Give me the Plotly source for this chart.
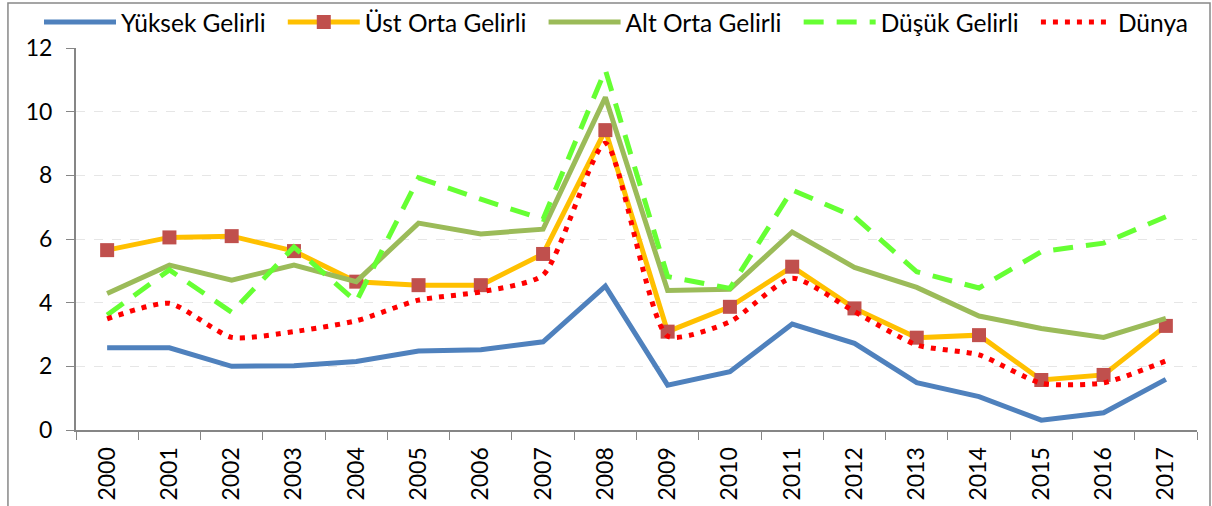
import plotly.graph_objects as go

years = [str(y) for y in range(2000, 2018)]
yuksek = [2.58, 2.58, 2.00, 2.02, 2.15, 2.48, 2.52, 2.77, 4.52, 1.41, 1.83, 3.33, 2.72, 1.49, 1.05, 0.31, 0.54, 1.59]
ust_orta = [5.65, 6.05, 6.09, 5.62, 4.66, 4.55, 4.55, 5.53, 9.42, 3.09, 3.87, 5.13, 3.82, 2.90, 2.98, 1.57, 1.73, 3.27]
alt_orta = [4.29, 5.18, 4.71, 5.18, 4.66, 6.50, 6.16, 6.31, 10.45, 4.38, 4.42, 6.22, 5.11, 4.48, 3.58, 3.19, 2.91, 3.51]
dusuk = [3.61, 5.03, 3.70, 5.75, 4.03, 7.92, 7.25, 6.62, 11.31, 4.82, 4.45, 7.54, 6.70, 4.97, 4.46, 5.60, 5.87, 6.70]
dunya = [3.49, 3.98, 2.91, 3.09, 3.43, 4.08, 4.34, 4.87, 9.01, 2.95, 3.40, 4.77, 3.72, 2.67, 2.36, 1.47, 1.48, 2.17]

FONT = "Lato, 'Open Sans', sans-serif"
PAD = "\u2002"

fig = go.Figure()
fig.add_trace(go.Scatter(x=years, y=yuksek, name="Yüksek Gelirli" + PAD, mode="lines",
                         line=dict(color="#4F81BD", width=5)))
fig.add_trace(go.Scatter(x=years, y=ust_orta, name="Üst Orta Gelirli" + PAD, mode="lines+markers",
                         line=dict(color="#FFC000", width=5),
                         marker=dict(symbol="square", size=14, color="#C0504D")))
fig.add_trace(go.Scatter(x=years, y=alt_orta, name="Alt Orta Gelirli" + PAD, mode="lines",
                         line=dict(color="#9BBB59", width=5)))
fig.add_trace(go.Scatter(x=years, y=dusuk, name="Düşük Gelirli" + PAD, mode="lines",
                         line=dict(color="#66FF33", width=5, dash="20px,13px")))
fig.add_trace(go.Scatter(x=years, y=dunya, name="Dünya", mode="lines",
                         line=dict(color="#FF0000", width=5, dash="5px,7px", shape="spline", smoothing=0.6)))

fig.update_layout(
    width=1212, height=506,
    margin=dict(l=76, r=15, t=48, b=76, autoexpand=False),
    paper_bgcolor="white", plot_bgcolor="white",
    font=dict(family=FONT, size=22, color="black"),
    showlegend=True,
    legend=dict(orientation="h", x=-0.033, xanchor="left", y=1.068, yanchor="middle",
                font=dict(size=24.5), itemwidth=72, bgcolor="rgba(0,0,0,0)",
                tracegroupgap=0),
    xaxis=dict(type="category", range=[-0.5, len(years) - 0.5], tickson="boundaries",
               ticks="outside", ticklen=8, ticklabelstandoff=6,
               tickcolor="#868686", showline=True, linecolor="#868686", linewidth=2,
               showgrid=False, tickangle=-90, tickfont=dict(size=23)),
    yaxis=dict(range=[0, 12], dtick=2, ticks="outside", ticklen=8, tickcolor="#868686",
               ticklabelstandoff=9,
               showline=True, linecolor="#868686", linewidth=2,
               showgrid=True, gridcolor="#e6e6e6", gridwidth=1, griddash="dash",
               zeroline=False, tickfont=dict(size=23)),
    shapes=[dict(type="rect", xref="paper", yref="paper",
                 x0=-0.0607, x1=1.0116, y0=-0.25, y1=1.118,
                 line=dict(color="#888888", width=1.5), layer="below")],
)

fig.write_html("out.html", config={"displayModeBar": False},
               post_script="document.body.style.margin='0';")
